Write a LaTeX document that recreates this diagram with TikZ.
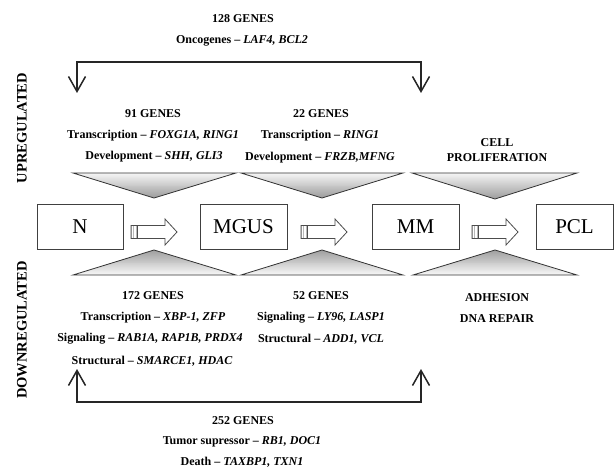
\documentclass[tikz,border=0pt]{standalone}
\usepackage{fontspec}
\setmainfont{Liberation Serif}
\usetikzlibrary{arrows.meta}
\tikzset{
  lbl/.style={font=\fontsize{12}{14}\selectfont\bfseries, inner sep=0pt, anchor=center},
  side/.style={font=\fontsize{14.5}{16}\selectfont\bfseries, inner sep=0pt, rotate=90},
  stage/.style={draw=black!75, line width=0.9pt, minimum height=45pt, inner sep=0pt,
                font=\fontsize{21}{23}\selectfont},
  brk/.style={line width=1.5pt, black!85, {Straight Barb[length=15pt,width=17pt,line width=1.5pt]}-{Straight Barb[length=15pt,width=17pt,line width=1.5pt]}},
  triline/.style={draw=black!80, line width=0.8pt},
  blockarr/.pic={
    \fill[white] (0,-6.5) -- (34,-6.5) -- (34,-13) -- (46,0) -- (34,13) -- (34,6.5) -- (0,6.5) -- cycle;
    \fill[gray!55] (0,-6.5) rectangle (6,6.5);
    \draw[white, line width=0.6pt] (1.5,-6.5) -- (1.5,6.5) (3,-6.5) -- (3,6.5) (4.5,-6.5) -- (4.5,6.5);
    \draw[black!70, line width=0.8pt] (0,-6.5) -- (34,-6.5) -- (34,-13) -- (46,0) -- (34,13) -- (34,6.5) -- (0,6.5) -- cycle;
    \draw[black!70, line width=0.6pt] (6,-6.5) -- (6,6.5);
  }
}
% #1 left x, #2 right x, #3 apex x, #4 base y, #5 apex y
\newcommand\gradtri[5]{%
  \begin{scope}
    \clip (#1,#4) -- (#2,#4) -- (#3,#5) -- cycle;
    \foreach \k in {0,...,25}{%
      \pgfmathsetmacro\cc{8+2.7*\k}%
      \pgfmathsetmacro\ya{#4+(#5-#4)*\k/26}%
      \pgfmathsetmacro\yb{#4+(#5-#4)*(\k+1.2)/26}%
      \fill[gray!\cc] (#1-1,\ya) rectangle (#2+1,\yb);
    }
  \end{scope}
  \path[triline] (#1,#4) -- (#2,#4) -- (#3,#5) -- cycle;
}
\begin{document}
\begin{tikzpicture}[x=1pt, y=-1pt]
\fill[white] (0,0) rectangle (615,468);
\useasboundingbox (0,0) rectangle (615,468);

% side labels
\node[side] (up) at (22,128) {UPREGULATED};
\node[side] (down) at (22,330) {DOWNREGULATED};

% top bracket
\node[lbl] (t128) at (243,19) {128 GENES};
\node[lbl] (onc) at (242,41) {Oncogenes -- \textit{LAF4, BCL2}};
\coordinate (uL) at (77,93);
\coordinate (uR) at (421,93);
\coordinate (uTop) at (249,62);
\draw[brk] (uL) |- (uTop) -| (uR);

% upper texts
\node[lbl] (g91) at (153,114) {91 GENES};
\node[lbl] (tr91) at (153,136) {Transcription -- \textit{FOXG1A, RING1}};
\node[lbl] (dev91) at (154,157) {Development -- \textit{SHH, GLI3}};
\node[lbl] (g22) at (321,114) {22 GENES};
\node[lbl] (tr22) at (320,136) {Transcription -- \textit{RING1}};
\node[lbl] (dev22) at (320,158) {Development -- \textit{FRZB,MFNG}};
\node[lbl] (cell) at (497,143) {CELL};
\node[lbl] (prolif) at (497,158) {PROLIFERATION};

% upper triangles (dark at apex)
\gradtri{73}{236}{154}{173}{198}
\gradtri{241}{403}{322}{173}{198}
\gradtri{412}{577}{495}{173}{199}

% stage boxes
\node[stage, minimum width=86pt] (N) at (80,226.5) {N};
\node[stage, minimum width=87pt] (MGUS) at (243.5,226.5) {MGUS};
\node[stage, minimum width=87pt] (MM) at (415.5,226.5) {MM};
\node[stage, minimum width=77pt] (PCL) at (574.5,226.5) {PCL};

% block arrows
\pic at (131,232) {blockarr};
\pic at (301,232) {blockarr};
\pic at (472,232) {blockarr};

% lower triangles (dark at apex)
\gradtri{73}{236}{154}{275}{250}
\gradtri{241}{403}{322}{275}{250}
\gradtri{413}{577}{495}{275}{250}

% lower texts
\node[lbl] (g172) at (153,296) {172 GENES};
\node[lbl] (tr172) at (153,318) {Transcription -- \textit{XBP-1, ZFP}};
\node[lbl] (sig172) at (150,339) {Signaling -- \textit{RAB1A, RAP1B, PRDX4}};
\node[lbl] (str172) at (152,361) {Structural -- \textit{SMARCE1, HDAC}};
\node[lbl] (g52) at (321,296) {52 GENES};
\node[lbl] (sig52) at (321,318) {Signaling -- \textit{LY96, LASP1}};
\node[lbl] (str52) at (321,339) {Structural -- \textit{ADD1, VCL}};
\node[lbl] (adh) at (497,298) {ADHESION};
\node[lbl] (dna) at (497,319) {DNA REPAIR};

% bottom bracket
\coordinate (dL) at (77,369);
\coordinate (dR) at (421,369);
\coordinate (dBot) at (249,402);
\draw[brk] (dL) |- (dBot) -| (dR);
\node[lbl] (g252) at (243,421) {252 GENES};
\node[lbl] (tum) at (242,442) {Tumor supressor -- \textit{RB1, DOC1}};
\node[lbl] (death) at (242,462) {Death -- \textit{TAXBP1, TXN1}};
\end{tikzpicture}
\end{document}
